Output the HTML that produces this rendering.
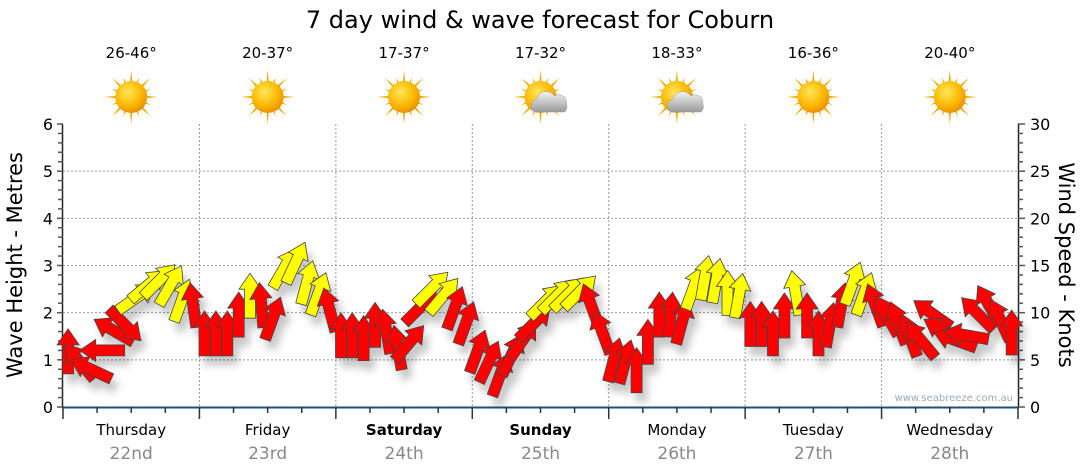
<!DOCTYPE html>
<html><head><meta charset="utf-8">
<style>
html,body{margin:0;padding:0;background:#fff;}
svg{display:block;font-family:"DejaVu Sans","Liberation Sans",sans-serif;}
</style></head>
<body>
<svg id="chart" width="1080" height="475" viewBox="0 0 1080 475">
<defs>
  <filter id="shadow" x="-50%" y="-50%" width="200%" height="200%">
    <feDropShadow dx="5" dy="9" stdDeviation="4" flood-color="#000" flood-opacity="0.22"/>
  </filter>
  <radialGradient id="sunGrad" cx="40%" cy="35%" r="70%">
    <stop offset="0" stop-color="#ffe75a"/><stop offset="0.6" stop-color="#fbb800"/><stop offset="1" stop-color="#e88a00"/>
  </radialGradient>
  <linearGradient id="cloudGrad" x1="0" y1="0" x2="0" y2="1">
    <stop offset="0" stop-color="#f4f4f4"/><stop offset="1" stop-color="#9a9a9a"/>
  </linearGradient>
</defs>
<text x="540" y="28" text-anchor="middle" font-size="24" fill="#000">7 day wind &amp; wave forecast for Coburn</text>
<g id="weather"></g>
<g id="grid"></g>
<g id="axes"></g>
<g id="arrows" filter="url(#shadow)"></g>
<text x="1013" y="401" text-anchor="end" font-size="10" fill="#9aaabb">www.seabreeze.com.au</text>
<text transform="translate(22,265) rotate(-90)" text-anchor="middle" font-size="21" fill="#000">Wave Height - Metres</text>
<text transform="translate(1059,265) rotate(90)" text-anchor="middle" font-size="21" fill="#000">Wind Speed - Knots</text>
</svg>
<script>
const days = ["Thursday","Friday","Saturday","Sunday","Monday","Tuesday","Wednesday"];
const dates = ["22nd","23rd","24th","25th","26th","27th","28th"];
const temps = ["26-46°","20-37°","17-37°","17-32°","18-33°","16-36°","20-40°"];
const cloudy = [false,false,false,true,true,false,false];
const leftTicks = [0,1,2,3,4,5,6];
const rightTicks = [0,5,10,15,20,25,30];
// wind speed (knots) every 2 hours, 12 per day
const windSpeed = [
 5.9,4.8,4.0,6.0,8.1,8.7,11.6,12.9,13.4,12.9,11.3,10.8,
 7.8,7.8,7.8,9.8,11.8,10.8,9.4,14.7,15.3,13.2,12.0,10.3,
 7.6,7.6,7.3,8.7,8.0,6.3,6.8,10.6,12.6,11.8,10.5,8.9,
 5.9,4.8,3.4,5.5,7.1,8.9,11.2,11.8,12.0,12.2,10.8,7.9,
 5.0,4.8,3.9,6.9,9.8,9.8,9.0,12.6,13.7,13.4,12.1,11.8,
 8.8,8.8,7.8,9.7,12.1,9.7,7.8,8.7,10.8,13.1,12.0,10.8,
 9.7,8.9,7.6,7.1,9.9,8.1,7.1,7.6,9.9,10.8,9.2,7.9];
// arrow heading in degrees (0 = up, clockwise)
const windDir = [
 0,-40,-65,-90,-60,135,55,50,45,30,20,-8,
 0,0,0,0,0,-5,20,30,25,15,20,-15,
 0,0,0,0,-10,-10,40,45,45,40,20,20,
 20,25,20,25,35,45,45,45,45,45,-20,-20,
 15,15,0,0,0,5,15,20,10,10,0,10,
 0,0,0,0,-10,0,0,10,10,20,20,-20,
 -30,-20,-20,-40,-55,-60,-70,-80,-45,-30,-25,0];

const NS="http://www.w3.org/2000/svg";
const X0=63,X1=1018,Y0=407,Y1=124;
const dayW=(X1-X0)/7;
const yL=v=>Y0-(v/6)*(Y0-Y1);
const yR=v=>Y0-(v/30)*(Y0-Y1);
const xT=i=>X0+(i+0.45)*dayW/12;
function mk(tag,attrs,parent){const e=document.createElementNS(NS,tag);for(const k in attrs)e.setAttribute(k,attrs[k]);parent.appendChild(e);return e;}
const grid=document.getElementById('grid'),axes=document.getElementById('axes'),arrows=document.getElementById('arrows'),weather=document.getElementById('weather');

for(let v=1;v<=5;v++){const l=mk('line',{x1:X0,x2:X1,y1:yL(v),y2:yL(v),stroke:'#999','stroke-dasharray':'2,2','stroke-width':1},grid);

}
for(let d=1;d<7;d++){const x=X0+d*dayW;const l=mk('line',{x1:x,x2:x,y1:Y1,y2:Y0,stroke:'#999','stroke-dasharray':'2,2','stroke-width':1},grid);

}

mk('line',{x1:X0-0.5,x2:X0-0.5,y1:Y1,y2:Y0,stroke:'#222','stroke-width':1.5},axes);
for(let v=0;v<=30;v++){const y=yL(v/5);mk('line',{x1:X0-(v%5?5:6),x2:X0,y1:y,y2:y,stroke:'#555','stroke-width':1.5},axes);}
leftTicks.forEach(v=>{const t=mk('text',{x:X0-10,y:yL(v)+6,'text-anchor':'end','font-size':16,fill:'#000'},axes);t.textContent=v;

});
mk('line',{x1:X1+0.5,x2:X1+0.5,y1:Y1,y2:Y0,stroke:'#222','stroke-width':1.5},axes);
for(let v=0;v<=30;v++){const y=yR(v);mk('line',{x1:X1,x2:X1+(v%5?5:7),y1:y,y2:y,stroke:'#555','stroke-width':1.5},axes);}
rightTicks.forEach(v=>{const t=mk('text',{x:X1+12,y:yR(v)+6,'text-anchor':'start','font-size':16,fill:'#000'},axes);t.textContent=v;

});
mk('line',{x1:X0-1,x2:X1+1,y1:Y0+0.5,y2:Y0+0.5,stroke:'#1f4f7a','stroke-width':2},axes);
for(let q=0;q<=28;q++){const x=X0+q*dayW/4;mk('line',{x1:x,x2:x,y1:Y0,y2:Y0+(q%4?6:12),stroke:'#333','stroke-width':1.5},axes);}
days.forEach((d,i)=>{const cx=X0+(i+0.5)*dayW;
 const t=mk('text',{x:cx,y:435,'text-anchor':'middle','font-size':15,fill:'#000','font-weight':(i==2||i==3)?'bold':'normal'},axes);t.textContent=d;
 
 
 const t2=mk('text',{x:cx,y:459,'text-anchor':'middle','font-size':17,fill:'#888'},axes);t2.textContent=dates[i];
 
 
 const tt=mk('text',{x:cx,y:58,'text-anchor':'middle','font-size':15,fill:'#000'},weather);tt.textContent=temps[i];
 
 
 const g=mk('g',{transform:`translate(${cx},97)`},weather);
 
 
 for(let r=0;r<16;r++){const a=r*Math.PI/8,L=r%2?21:27;
  mk('polygon',{points:`${Math.cos(a-0.12)*12},${Math.sin(a-0.12)*12} ${Math.cos(a)*L},${Math.sin(a)*L} ${Math.cos(a+0.12)*12},${Math.sin(a+0.12)*12}`,fill:'#f0a800'},g);}
 mk('circle',{cx:0,cy:0,r:16,fill:'url(#sunGrad)'},g);
 if(cloudy[i]){mk('path',{d:'M-6,15 a7,7 0 0 1 2,-13 a10,10 0 0 1 18,-3 a8,8 0 0 1 12,8 a7,7 0 0 1 -2,8 z',fill:'url(#cloudGrad)',stroke:'#999','stroke-width':0.5},g);}
});

windSpeed.forEach((s,i)=>{
 const x=xT(i),y=yR(s);
 const col=s>=11.1?'#ffff00':'#ff0000';
 const p=mk('polygon',{points:'-5.5,22.5 5.5,22.5 5.5,-6.5 11,-6.5 0,-22.5 -11,-6.5 -5.5,-6.5',fill:col,stroke:'#444','stroke-width':0.8,transform:`translate(${x.toFixed(1)},${y.toFixed(1)}) rotate(${windDir[i]})`},arrows);
 
 
});
</script>
</body></html>
